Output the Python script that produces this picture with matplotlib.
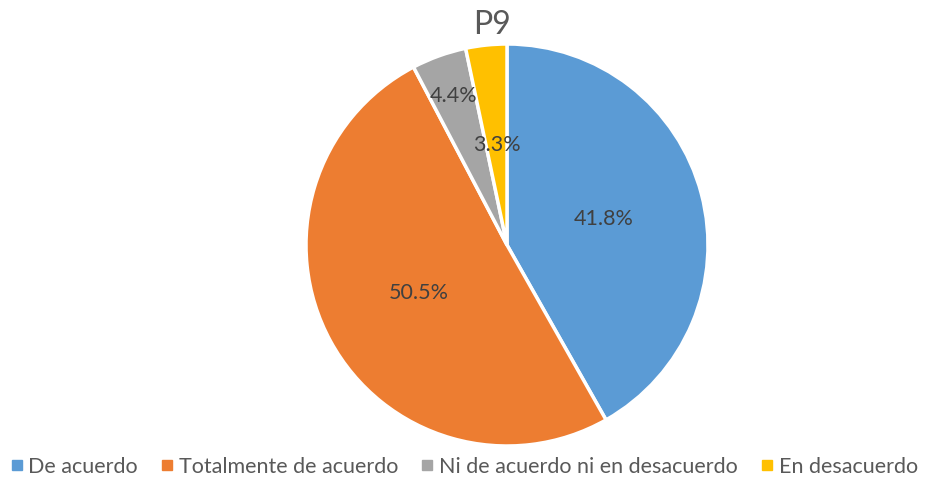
import matplotlib.pyplot as plt
from matplotlib.lines import Line2D

labels = ["De acuerdo", "Totalmente de acuerdo", "Ni de acuerdo ni en desacuerdo", "En desacuerdo"]
values = [41.8, 50.5, 4.4, 3.3]
colors = ["#5B9BD5", "#ED7D31", "#A5A5A5", "#FFC000"]
title = "P9"

plt.rcParams['font.family'] = ['Lato', 'DejaVu Sans']

fig = plt.figure(figsize=(9.27, 4.79), dpi=100)
ax = fig.add_axes([306 / 927, 33 / 479, 402 / 927, 402 / 479])

wedges, texts, autotexts = ax.pie(values, colors=colors, startangle=90, counterclock=False,
                                  autopct="%.1f%%", pctdistance=0.5, radius=1,
                                  wedgeprops=dict(edgecolor="white", linewidth=2.5),
                                  textprops=dict(color="#404040", fontsize=15.5))
# the small grey slice label sits further out
x, y = autotexts[2].get_position()
autotexts[2].set_position((x * 0.79 / 0.5, y * 0.79 / 0.5))
ax.set_xlim(-1, 1)
ax.set_ylim(-1, 1)
ax.set_aspect("equal")

fig.text(492 / 927, 1 - 25 / 479, title, ha="center", va="center", fontsize=23, color="#595959")

handles = [Line2D([], [], marker="s", linestyle="none", markersize=7, color=c) for c in colors]
fig.legend(handles, labels, loc="center", bbox_to_anchor=(0.5, 1 - 467 / 479), ncol=4,
           frameon=False, fontsize=15.5, labelcolor="#595959", handletextpad=0.2,
           columnspacing=1.0, handlelength=0.7)

fig.savefig("out.png", dpi=100)
